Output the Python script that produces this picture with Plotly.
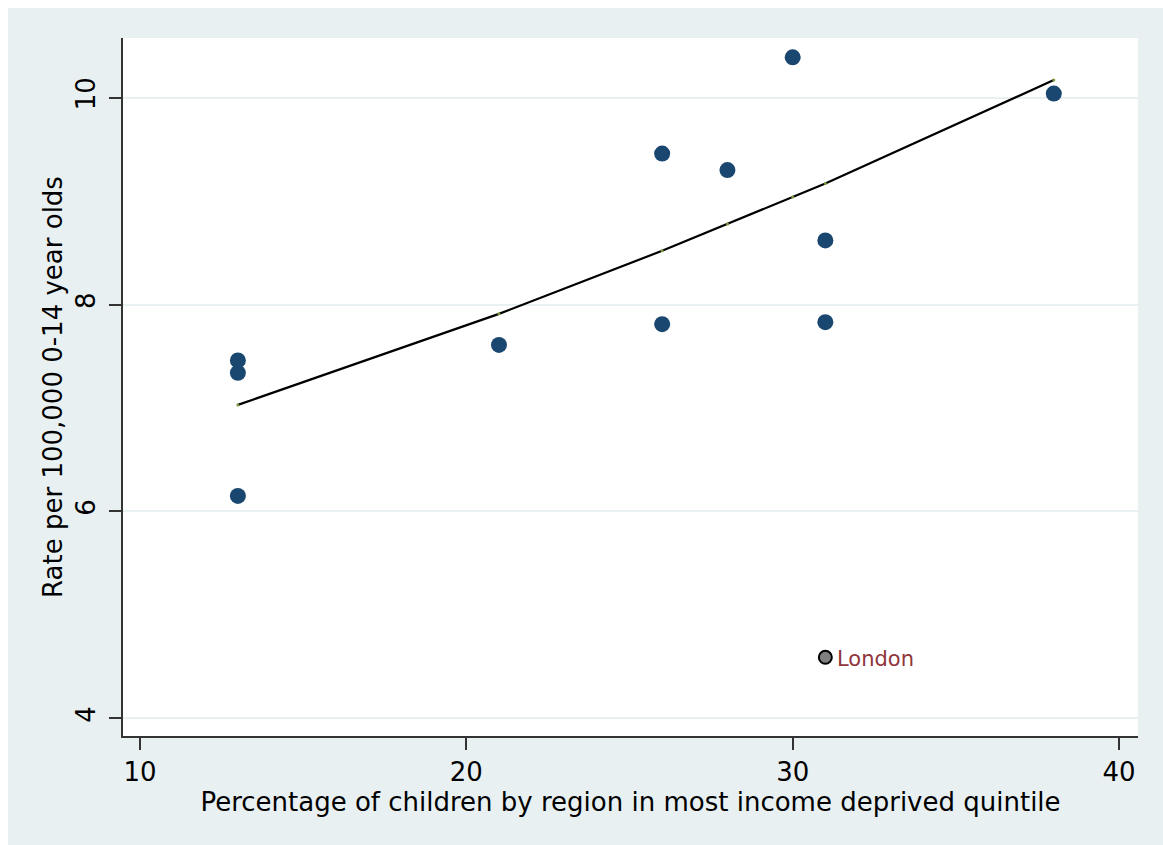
import plotly.graph_objects as go

# Regional rates vs. share of children in most income-deprived quintile
pct_deprived = [13, 13, 13, 21, 26, 26, 28, 30, 31, 31, 38]
rate_per_100k = [7.46, 7.34, 6.15, 7.61, 9.46, 7.81, 9.30, 10.39, 8.62, 7.83, 10.04]

london_pct = [31]
london_rate = [4.59]
london_label = "London"

# Fitted values at each distinct x
fit_x = [13, 21, 26, 28, 30, 31, 38]
fit_y = [7.03, 7.91, 8.52, 8.78, 9.04, 9.17, 10.17]

x_ticks = [10, 20, 30, 40]
y_ticks = [4, 6, 8, 10]

W, H = 1163, 845
ML, MR, MT, MB = 123, 25, 38, 109
pw, ph = W - ML - MR, H - MT - MB

BG = "#E8F0F2"
NAVY = "#1A476F"
FONT = "DejaVu Sans"

fig = go.Figure()

fig.add_trace(go.Scatter(
    x=fit_x, y=fit_y, mode="lines+markers",
    line=dict(color="black", width=2.2),
    marker=dict(color="#7A9A3A", size=3),
    hoverinfo="skip", showlegend=False,
))

fig.add_trace(go.Scatter(
    x=pct_deprived, y=rate_per_100k, mode="markers",
    marker=dict(color=NAVY, size=16, line=dict(width=0)),
    showlegend=False,
))

fig.add_trace(go.Scatter(
    x=london_pct, y=london_rate, mode="markers",
    marker=dict(color="#808080", size=13, line=dict(color="black", width=2)),
    showlegend=False,
))
fig.add_annotation(
    x=london_pct[0], y=london_rate[0], text=london_label, showarrow=False,
    xanchor="left", yanchor="middle", xshift=10, yshift=-2,
    font=dict(family=FONT, size=21, color="#90353B"),
)

# white strips along the top and left edges of the page
fig.add_shape(type="rect", xref="paper", yref="paper", layer="below",
              x0=-ML / pw, x1=(8 - ML) / pw, y0=-MB / ph, y1=(ph + MT) / ph,
              fillcolor="white", line=dict(width=0))
fig.add_shape(type="rect", xref="paper", yref="paper", layer="below",
              x0=-ML / pw, x1=(pw + MR) / pw, y0=(ph + MT - 8) / ph, y1=(ph + MT) / ph,
              fillcolor="white", line=dict(width=0))

fig.update_layout(
    width=W, height=H,
    margin=dict(l=ML, r=MR, t=MT, b=MB),
    paper_bgcolor=BG, plot_bgcolor="white",
    font=dict(family=FONT, size=26, color="black"),
    xaxis=dict(
        range=[9.48, 40.58], tickvals=x_ticks,
        showgrid=False, zeroline=False,
        showline=True, linecolor="#333333", linewidth=2,
        ticks="outside", ticklen=12, tickwidth=2, tickcolor="#333333",
        tickfont=dict(size=26),
        title=dict(text="Percentage of children by region in most income deprived quintile",
                   font=dict(size=26), standoff=0),
    ),
    yaxis=dict(
        range=[3.829, 10.577], tickvals=y_ticks, tickangle=-90,
        showgrid=True, gridcolor=BG, gridwidth=2, zeroline=False,
        showline=True, linecolor="#333333", linewidth=2,
        ticks="outside", ticklen=12, tickwidth=2, tickcolor="#333333",
        tickfont=dict(size=26), ticklabelstandoff=4,
        title=dict(text="Rate per 100,000 0-14 year olds", font=dict(size=26), standoff=0),
    ),
)

fig.write_html("out.html")
